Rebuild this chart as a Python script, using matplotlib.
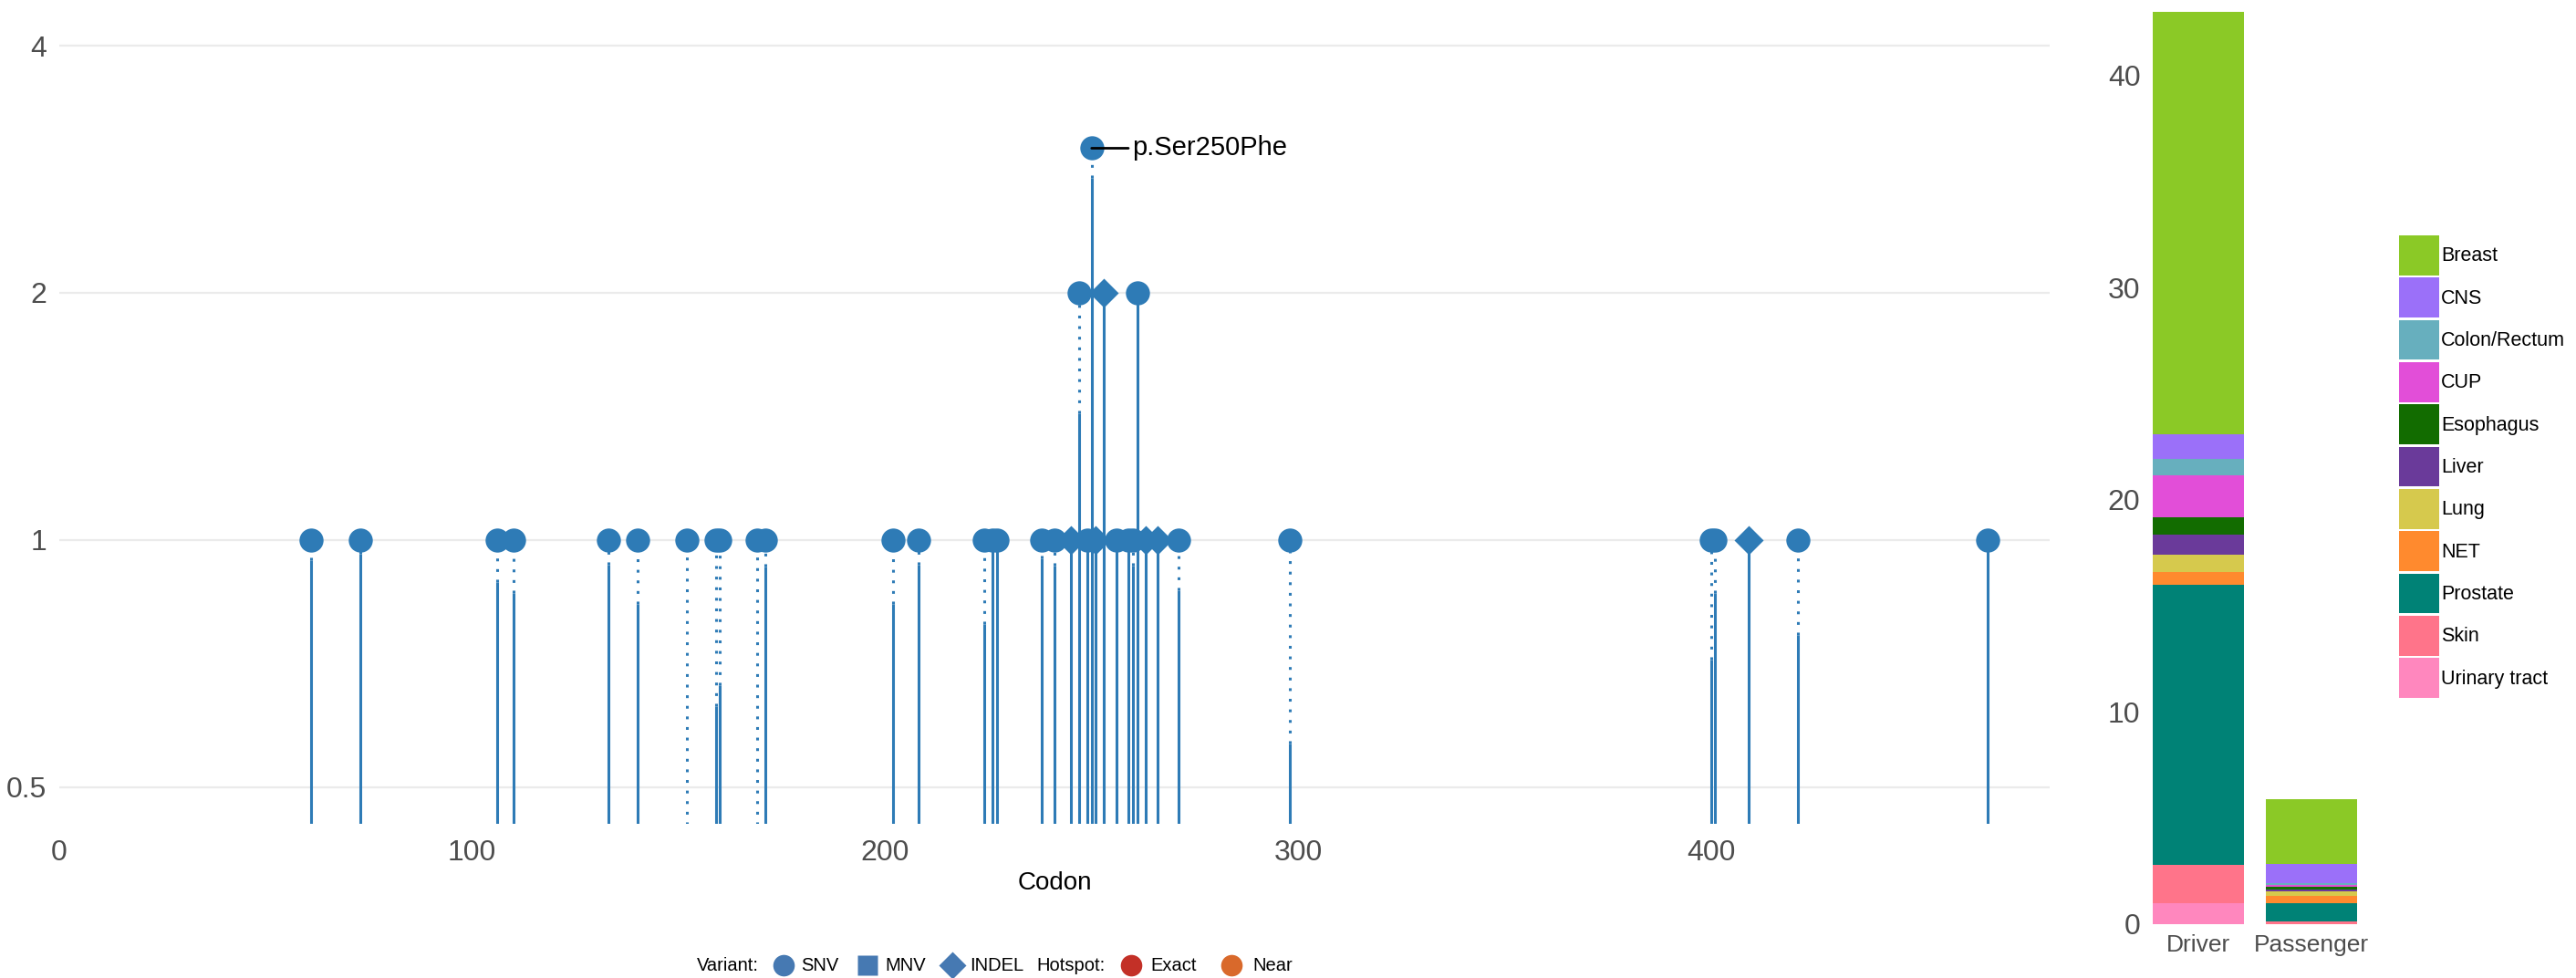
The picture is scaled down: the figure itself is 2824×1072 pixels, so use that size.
import matplotlib
matplotlib.use("Agg")
import matplotlib.pyplot as plt
from matplotlib.patches import Patch
from matplotlib.ticker import NullLocator

# --- Lollipop data (codon, count, variant type, height where the solid part ends) ---
codons = [61, 73, 106, 110, 133, 140, 152, 159, 160, 169, 171, 202, 208, 224, 226, 227,
          238, 241, 245, 247, 249, 250, 251, 253, 256, 259, 260, 261, 263, 266, 271, 298,
          400, 401, 409, 421, 467]
counts = [1, 1, 1, 1, 1, 1, 1, 1, 1, 1, 1, 1, 1, 1, 1, 1,
          1, 1, 1, 2, 1, 3, 1, 2, 1, 1, 1, 2, 1, 1, 1, 1,
          1, 1, 1, 1, 1]
variants = ["SNV", "SNV", "SNV", "SNV", "SNV", "SNV", "SNV", "SNV", "SNV", "SNV", "SNV", "SNV",
            "SNV", "SNV", "SNV", "SNV", "SNV", "SNV", "INDEL", "SNV", "SNV", "SNV", "INDEL", "INDEL",
            "SNV", "SNV", "SNV", "SNV", "INDEL", "INDEL", "SNV", "SNV",
            "SNV", "SNV", "INDEL", "SNV", "SNV"]
solid_top = [0.946, 0.963, 0.888, 0.861, 0.932, 0.836, 0.45, 0.628, 0.665, 0.45, 0.928, 0.836,
             0.932, 0.789, 1, 1, 0.95, 0.93, 1, 1.425, 1, 2.76, 1, 2, 1, 1, 0.93, 2, 1, 1,
             0.869, 0.565, 0.714, 0.862, 1, 0.766, 1]
label_codon = 250
label_text = "p.Ser250Phe"

# --- Stacked bar data ---
groups = ["Driver", "Passenger"]
cancer_types = ["Breast", "CNS", "Colon/Rectum", "CUP", "Esophagus", "Liver", "Lung",
                "NET", "Prostate", "Skin", "Urinary tract"]
driver_vals = [19.9, 1.15, 0.8, 1.95, 0.85, 0.95, 0.8, 0.6, 13.2, 1.8, 1.0]
passenger_vals = [3.05, 0.9, 0.1, 0.1, 0.1, 0.1, 0.2, 0.35, 0.85, 0.15, 0.0]
cancer_colors = ["#8BC926", "#9B70F9", "#67AFBE", "#E24ED8", "#126C00", "#6A3A9A",
                 "#D6C94D", "#FF8A2E", "#008276", "#FF748A", "#FF87BE"]

BLUE = "#2E7BB6"
GREY = "#4D4D4D"
YMIN = 0.451

plt.rcParams["font.family"] = ["Liberation Sans", "DejaVu Sans"]

W, H = 2824, 1072
fig = plt.figure(figsize=(W / 100, H / 100), dpi=100)

# --- Lollipop panel ---
ax = fig.add_axes([65 / W, (H - 903) / H, 2182 / W, 883 / H])
ax.set_yscale("log")
ax.set_xlim(0, 482)
ax.set_ylim(YMIN, 4.32)

for x, c, s in zip(codons, counts, solid_top):
    if s > YMIN:
        ax.vlines(x, YMIN, s, color=BLUE, lw=2.2, zorder=2)
    if s < c:
        ax.vlines(x, s, c, color=BLUE, lw=2.2, linestyles=(0, (1, 2.8)), zorder=2)

shape = {"SNV": ("o", 19), "MNV": ("s", 16), "INDEL": ("D", 16)}
for v, (m, ms) in shape.items():
    xs = [x for x, vv in zip(codons, variants) if vv == v]
    ys = [c for c, vv in zip(counts, variants) if vv == v]
    if xs:
        ax.plot(xs, ys, ls="none", marker=m, ms=ms, color=BLUE, mec="none", zorder=3)

i = codons.index(label_codon)
ax.annotate(label_text, xy=(label_codon, counts[i]), xytext=(32, 0),
            textcoords="offset points", ha="left", va="center", fontsize=21, color="black",
            arrowprops=dict(arrowstyle="-", color="black", lw=2, shrinkA=1, shrinkB=0), zorder=5)

ax.set_yticks([0.5, 1, 2, 4])
ax.set_yticklabels(["0.5", "1", "2", "4"])
ax.yaxis.set_minor_locator(NullLocator())
ax.set_xticks([0, 100, 200, 300, 400])
ax.tick_params(length=0, labelsize=23, labelcolor=GREY)
ax.tick_params(axis="y", pad=10)
ax.tick_params(axis="x", pad=12)
ax.grid(axis="y", color="#EBEBEB", lw=1.6)
ax.set_axisbelow(True)
for sp in ax.spines.values():
    sp.set_visible(False)
ax.set_xlabel("Codon", fontsize=20, color="black", labelpad=4)

# --- Stacked bar panel ---
ax2 = fig.add_axes([2352 / W, 59 / H, 248 / W, 1008 / H])
bottoms = [0.0, 0.0]
for name, col, d, p in reversed(list(zip(cancer_types, cancer_colors, driver_vals, passenger_vals))):
    ax2.bar([0, 1], [d, p], bottom=bottoms, width=0.806, color=col, label=name, linewidth=0)
    bottoms = [bottoms[0] + d, bottoms[1] + p]
ax2.set_xlim(-0.468, 1.532)
ax2.set_ylim(0, 43.35)
ax2.set_xticks([0, 1])
ax2.set_xticklabels(groups)
ax2.set_yticks([0, 10, 20, 30, 40])
ax2.tick_params(length=0, labelcolor=GREY)
ax2.tick_params(axis="y", labelsize=23, pad=4)
ax2.tick_params(axis="x", labelsize=19, pad=8)
for sp in ax2.spines.values():
    sp.set_visible(False)

handles = [Patch(facecolor=c, edgecolor="none", label=n) for n, c in zip(cancer_types, cancer_colors)]
fig.legend(handles=handles, loc="upper left", bbox_to_anchor=(2630 / W, 1 - 258 / H),
           frameon=False, fontsize=15.5, handlelength=2.04, handleheight=2.75,
           labelspacing=0.12, handletextpad=0.1, borderpad=0, borderaxespad=0)

# --- Bottom key (variant shapes and hotspot colours) ---
key_labels = ["Variant:", "SNV", "MNV", "INDEL", "Hotspot:", "Exact", "Near"]
key_markers = [None, "o", "s", "D", None, "o", "o"]
key_colors = [None, "#4679B2", "#4679B2", "#4679B2", None, "#C33027", "#D9692B"]
key_text_x = [764, 878, 970, 1063, 1136, 1261, 1373]
key_mark_x = [None, 859, 951, 1044, None, 1240, 1350]
key_ms = [0, 17, 16, 15, 0, 17, 17]

lax = fig.add_axes([740 / W, 0, 700 / W, 40 / H])
lax.set_xlim(740, 1440)
lax.set_ylim(1072, 1032)
lax.axis("off")
for lab, m, col, tx, mx, ms in zip(key_labels, key_markers, key_colors, key_text_x, key_mark_x, key_ms):
    lax.text(tx, 1058, lab, ha="left", va="center", fontsize=14.5,
             family=["Liberation Sans Narrow", "Liberation Sans"], color="black")
    if m is not None:
        lax.plot([mx], [1058], marker=m, ms=ms, color=col, mec="none", ls="none")

fig.savefig("out.png", dpi=100)
